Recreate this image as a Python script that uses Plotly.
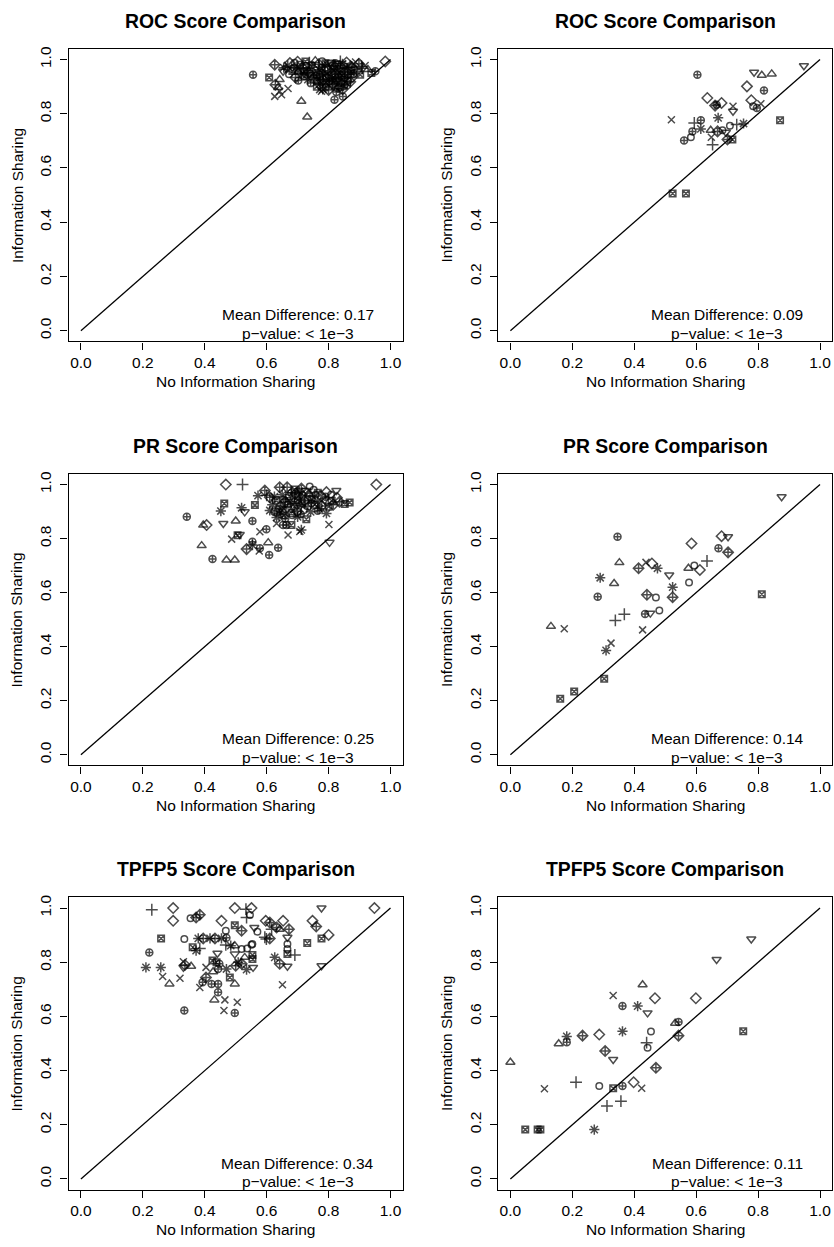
import plotly.graph_objects as go

W, H = 834, 1247
FONT = "Liberation Sans, Arial, Helvetica, sans-serif"

# ---------------- text ----------------
panel_titles = ["ROC Score Comparison", "ROC Score Comparison",
                "PR Score Comparison", "PR Score Comparison",
                "TPFP5 Score Comparison", "TPFP5 Score Comparison"]
mean_diffs = ["0.17", "0.09", "0.25", "0.14", "0.34", "0.11"]
p_values = ["< 1e\u22123"] * 6
x_label = "No Information Sharing"
y_label = "Information Sharing"
tick_vals = [0.0, 0.2, 0.4, 0.6, 0.8, 1.0]
tick_text = ["0.0", "0.2", "0.4", "0.6", "0.8", "1.0"]

# shape codes: o circle, t tri-up, p plus, x cross, d diamond, v tri-down,
# s boxed x, a asterisk, D diamond-plus, c circle-plus
# ---------------- data: (no sharing, sharing, shape) ----------------
roc_left = [
    (0.556, 0.944, 'c'), (0.608, 0.934, 's'), (0.983, 0.993, 'd'), (0.712, 0.846, 't'),
    (0.731, 0.788, 't'), (0.626, 0.864, 'x'), (0.648, 0.870, 'x'), (0.669, 0.893, 'x'),
    (0.642, 0.883, 'x'), (0.637, 0.897, 't'), (0.628, 0.907, 'D'), (0.825, 0.880, 'c'),
    (0.819, 0.852, 'c'), (0.846, 0.864, 'c'), (0.777, 0.883, 'x'), (0.781, 0.890, 'a'),
    (0.927, 0.963, 't'), (0.906, 0.975, 'p'), (0.938, 0.950, 's'), (0.951, 0.957, 'c'),
    (0.626, 0.981, 'D'), (0.675, 0.987, 'd'), (0.642, 0.926, 't'), (0.653, 0.957, 'v'),
    (0.655, 0.970, 'a'), (0.860, 0.905, 'c'), (0.870, 0.918, 'D'),
    (0.700, 0.992, 'd'), (0.738, 0.988, 'p'), (0.779, 0.994, 'o'), (0.806, 0.990, 'v'),
    (0.838, 0.993, 'p'), (0.858, 0.989, 'd'), (0.887, 0.991, 'x'), (0.757, 0.996, 't'),
    (0.822, 0.986, 'c'),
    (0.668, 0.978, 'a'), (0.708, 0.981, 's'), (0.728, 0.976, 'o'), (0.768, 0.983, 'D'),
    (0.797, 0.979, 'a'), (0.828, 0.982, 's'), (0.849, 0.976, 'o'), (0.871, 0.980, 't'),
    (0.898, 0.984, 'D'), (0.918, 0.978, 'x'),
    (0.664, 0.966, 'v'), (0.688, 0.970, 'c'), (0.718, 0.967, 'D'), (0.748, 0.972, 'a'),
    (0.777, 0.968, 's'), (0.796, 0.965, 'd'), (0.818, 0.971, 't'), (0.839, 0.967, 'c'),
    (0.861, 0.969, 'a'), (0.882, 0.964, 'o'), (0.909, 0.968, 'p'),
    (0.683, 0.958, 's'), (0.703, 0.955, 't'), (0.731, 0.960, 'c'), (0.759, 0.956, 'x'),
    (0.788, 0.959, 'D'), (0.808, 0.954, 'c'), (0.829, 0.957, 'a'), (0.851, 0.953, 'D'),
    (0.873, 0.958, 's'), (0.893, 0.955, 'v'),
    (0.672, 0.946, 'o'), (0.712, 0.944, 'a'), (0.741, 0.948, 's'), (0.762, 0.942, 'c'),
    (0.781, 0.947, 'a'), (0.801, 0.943, 'x'), (0.822, 0.946, 'D'), (0.842, 0.941, 's'),
    (0.862, 0.945, 'c'), (0.902, 0.944, 's'),
    (0.693, 0.934, 'D'), (0.722, 0.937, 's'), (0.752, 0.932, 'D'), (0.771, 0.936, 'c'),
    (0.792, 0.933, 'o'), (0.812, 0.931, 'a'), (0.832, 0.935, 'c'), (0.853, 0.930, 'v'),
    (0.874, 0.933, 'D'),
    (0.702, 0.923, 'c'), (0.733, 0.926, 'a'), (0.763, 0.921, 's'), (0.783, 0.925, 'D'),
    (0.803, 0.920, 'c'), (0.823, 0.924, 's'), (0.843, 0.919, 'a'), (0.862, 0.922, 'o'),
    (0.742, 0.913, 'c'), (0.772, 0.910, 'a'), (0.792, 0.914, 's'), (0.812, 0.909, 'D'),
    (0.833, 0.912, 'x'), (0.852, 0.908, 'c'),
    (0.762, 0.900, 's'), (0.791, 0.897, 'c'), (0.818, 0.902, 'a'), (0.838, 0.898, 's'),
    (0.845, 0.890, 'D'), (0.800, 0.888, 'D'), (0.831, 0.893, 'c'), (0.771, 0.889, 'x'),
    (0.690, 0.988, 'o'), (0.725, 0.993, 's'), (0.745, 0.980, 'c'), (0.790, 0.986, 's'),
    (0.815, 0.978, 'D'), (0.845, 0.984, 'a'), (0.875, 0.972, 'D'), (0.735, 0.952, 'D'),
    (0.770, 0.962, 'a'), (0.815, 0.962, 's'), (0.845, 0.958, 'c'), (0.880, 0.948, 'c'),
    (0.756, 0.940, 'a'), (0.790, 0.942, 'c'), (0.826, 0.928, 'D'), (0.850, 0.935, 's'),
    (0.778, 0.918, 'c'), (0.808, 0.925, 'a'), (0.720, 0.958, 's'), (0.700, 0.965, 'a'),
]

roc_right = [
    (0.604, 0.944, 'c'), (0.787, 0.953, 'v'), (0.812, 0.942, 't'), (0.844, 0.947, 't'),
    (0.948, 0.977, 'v'), (0.764, 0.901, 'd'), (0.819, 0.886, 'c'), (0.636, 0.858, 'd'),
    (0.682, 0.840, 'd'), (0.661, 0.830, 'D'), (0.666, 0.833, 'c'), (0.719, 0.828, 'x'),
    (0.719, 0.809, 'v'), (0.778, 0.850, 'd'), (0.784, 0.828, 'o'), (0.796, 0.821, 'c'),
    (0.809, 0.837, 'x'), (0.520, 0.778, 'x'), (0.594, 0.766, 'p'), (0.615, 0.776, 'c'),
    (0.671, 0.785, 'a'), (0.871, 0.776, 's'), (0.753, 0.764, 'a'), (0.731, 0.760, 'p'),
    (0.709, 0.756, 'o'), (0.615, 0.744, 'a'), (0.588, 0.735, 'c'), (0.583, 0.713, 'o'),
    (0.561, 0.701, 'c'), (0.647, 0.739, 't'), (0.669, 0.735, 'D'), (0.685, 0.739, 'o'),
    (0.696, 0.732, 'v'), (0.649, 0.713, 'x'), (0.653, 0.686, 'p'), (0.701, 0.705, 'D'),
    (0.717, 0.705, 's'), (0.524, 0.506, 's'), (0.567, 0.506, 's'),
]

pr_left = [
    (0.468, 1.000, 'd'), (0.522, 1.000, 'p'), (0.954, 1.000, 'd'), (0.342, 0.881, 'c'),
    (0.395, 0.850, 't'), (0.406, 0.850, 'd'), (0.452, 0.902, 'a'), (0.463, 0.930, 's'),
    (0.460, 0.856, 'v'), (0.500, 0.865, 't'), (0.562, 0.924, 's'), (0.519, 0.914, 'a'),
    (0.529, 0.899, 'v'), (0.554, 0.865, 'c'), (0.578, 0.825, 'x'), (0.599, 0.835, 'c'),
    (0.632, 0.856, 'x'), (0.653, 0.850, 'c'), (0.664, 0.850, 'c'), (0.680, 0.850, 's'),
    (0.669, 0.813, 'x'), (0.712, 0.832, 'a'), (0.707, 0.826, 'x'), (0.793, 0.893, 'a'),
    (0.801, 0.852, 'x'), (0.803, 0.786, 'v'), (0.852, 0.928, 's'), (0.868, 0.934, 's'),
    (0.487, 0.798, 'x'), (0.513, 0.815, 'v'), (0.506, 0.812, 's'), (0.390, 0.774, 't'),
    (0.554, 0.788, 'c'), (0.535, 0.761, 'D'), (0.605, 0.785, 't'), (0.578, 0.764, 'c'),
    (0.576, 0.754, 'x'), (0.637, 0.766, 'c'), (0.608, 0.739, 'c'), (0.425, 0.724, 'c'),
    (0.470, 0.721, 't'), (0.497, 0.721, 't'), (0.554, 0.776, 'a'),
    (0.642, 0.990, 'D'), (0.666, 0.990, 'D'), (0.594, 0.978, 'D'), (0.572, 0.959, 'a'),
    (0.610, 0.953, 'D'), (0.739, 0.993, 'o'), (0.825, 0.978, 'v'), (0.793, 0.972, 'd'),
    (0.827, 0.951, 'd'), (0.683, 0.886, 'o'), (0.666, 0.910, 'v'), (0.610, 0.904, 'a'),
    (0.640, 0.892, 'a'), (0.600, 0.960, 'p'), (0.625, 0.955, 'a'),
    (0.690, 0.982, 's'), (0.712, 0.985, 'D'), (0.727, 0.978, 'v'), (0.752, 0.981, 'o'),
    (0.705, 0.975, 'a'),
    (0.650, 0.962, 'a'), (0.672, 0.958, 's'), (0.693, 0.965, 'D'), (0.716, 0.960, 'c'),
    (0.735, 0.966, 't'), (0.758, 0.962, 'o'), (0.776, 0.958, 'd'), (0.808, 0.962, 'o'),
    (0.630, 0.942, 's'), (0.655, 0.945, 'c'), (0.676, 0.938, 'a'), (0.700, 0.944, 's'),
    (0.722, 0.940, 'D'), (0.745, 0.946, 's'), (0.765, 0.938, 'a'), (0.787, 0.943, 'v'),
    (0.810, 0.940, 's'), (0.835, 0.936, 'D'),
    (0.618, 0.925, 'a'), (0.645, 0.920, 'D'), (0.668, 0.926, 'c'), (0.690, 0.918, 's'),
    (0.712, 0.923, 'a'), (0.733, 0.919, 'c'), (0.755, 0.925, 's'), (0.778, 0.921, 'D'),
    (0.800, 0.918, 's'),
    (0.625, 0.898, 'c'), (0.652, 0.903, 's'), (0.698, 0.900, 'D'), (0.720, 0.905, 'o'),
    (0.742, 0.899, 'a'), (0.765, 0.903, 'c'),
    (0.632, 0.878, 'a'), (0.660, 0.874, 'c'), (0.700, 0.880, 'a'), (0.728, 0.872, 's'),
    (0.680, 0.970, 'c'), (0.700, 0.958, 's'), (0.740, 0.955, 'D'), (0.765, 0.970, 's'),
    (0.790, 0.955, 'c'), (0.660, 0.935, 'D'), (0.690, 0.930, 'a'), (0.715, 0.932, 's'),
    (0.745, 0.932, 'c'), (0.770, 0.910, 'a'), (0.640, 0.910, 'c'), (0.680, 0.895, 's'),
    (0.710, 0.890, 'c'), (0.655, 0.885, 's'), (0.815, 0.925, 'D'),
]

pr_right = [
    (0.876, 0.955, 'v'), (0.346, 0.807, 'c'), (0.585, 0.782, 'd'), (0.682, 0.809, 'd'),
    (0.703, 0.807, 'v'), (0.672, 0.764, 'c'), (0.703, 0.749, 'D'), (0.352, 0.711, 't'),
    (0.438, 0.712, 'x'), (0.457, 0.708, 'd'), (0.414, 0.690, 'D'), (0.475, 0.690, 'a'),
    (0.513, 0.665, 'v'), (0.290, 0.655, 'a'), (0.335, 0.634, 't'), (0.575, 0.690, 't'),
    (0.594, 0.700, 'o'), (0.612, 0.684, 'd'), (0.635, 0.717, 'p'), (0.577, 0.637, 'o'),
    (0.524, 0.620, 'a'), (0.282, 0.585, 'c'), (0.441, 0.592, 'D'), (0.470, 0.582, 'o'),
    (0.524, 0.583, 'D'), (0.368, 0.520, 'p'), (0.339, 0.497, 'p'), (0.435, 0.521, 'c'),
    (0.452, 0.524, 'v'), (0.481, 0.534, 'o'), (0.131, 0.475, 't'), (0.174, 0.466, 'x'),
    (0.427, 0.462, 'x'), (0.325, 0.413, 'x'), (0.309, 0.386, 'a'), (0.303, 0.281, 's'),
    (0.206, 0.234, 's'), (0.161, 0.207, 's'), (0.812, 0.594, 's'),
]

tpfp_left = [
    (0.229, 0.994, 'p'), (0.298, 1.000, 'd'), (0.298, 0.953, 'd'), (0.354, 0.962, 'o'),
    (0.372, 0.965, 'D'), (0.384, 0.975, 'D'), (0.497, 1.000, 'd'), (0.533, 0.996, 'p'),
    (0.551, 1.000, 'd'), (0.535, 0.965, 'p'), (0.546, 0.974, 'o'), (0.454, 0.953, 'd'),
    (0.497, 0.937, 's'), (0.519, 0.916, 'D'), (0.468, 0.916, 'o'), (0.597, 0.953, 'd'),
    (0.560, 0.928, 'v'), (0.570, 0.913, 'o'),
    (0.259, 0.888, 's'), (0.334, 0.886, 'o'), (0.379, 0.888, 'a'), (0.395, 0.888, 'D'),
    (0.417, 0.888, 'a'), (0.433, 0.888, 'D'), (0.454, 0.888, 'a'), (0.470, 0.890, 'c'),
    (0.468, 0.864, 'p'), (0.484, 0.861, 'a'), (0.497, 0.861, 't'), (0.519, 0.849, 'o'),
    (0.537, 0.851, 'o'), (0.554, 0.867, 'o'), (0.361, 0.855, 's'), (0.372, 0.843, 'a'),
    (0.384, 0.851, 'p'), (0.221, 0.836, 'c'), (0.441, 0.833, 'v'), (0.497, 0.830, 'v'),
    (0.529, 0.818, 't'), (0.554, 0.827, 's'), (0.554, 0.812, 's'), (0.508, 0.800, 'a'),
    (0.519, 0.794, 'D'), (0.535, 0.773, 'a'), (0.556, 0.781, 'v'), (0.425, 0.806, 's'),
    (0.438, 0.800, 's'), (0.447, 0.794, 'c'), (0.470, 0.775, 'a'), (0.500, 0.787, 'D'),
    (0.404, 0.781, 'x'), (0.427, 0.765, 't'), (0.443, 0.775, 'c'), (0.210, 0.781, 'a'),
    (0.258, 0.781, 'a'), (0.331, 0.802, 'x'), (0.331, 0.781, 'v'), (0.336, 0.790, 'D'),
    (0.356, 0.785, 't'), (0.264, 0.747, 'x'), (0.320, 0.741, 'x'), (0.286, 0.720, 't'),
    (0.404, 0.744, 'D'), (0.393, 0.726, 'c'), (0.384, 0.707, 'x'), (0.422, 0.720, 'c'),
    (0.443, 0.720, 'c'), (0.481, 0.744, 's'), (0.497, 0.720, 't'), (0.443, 0.689, 'c'),
    (0.431, 0.661, 't'), (0.465, 0.661, 'x'), (0.505, 0.652, 'x'), (0.334, 0.622, 'c'),
    (0.462, 0.622, 'x'), (0.497, 0.613, 'c'),
    (0.777, 1.000, 'v'), (0.948, 1.000, 'd'), (0.653, 0.953, 'd'), (0.610, 0.947, 'D'),
    (0.632, 0.928, 'D'), (0.616, 0.922, 'p'), (0.610, 0.888, 'D'), (0.594, 0.892, 'p'),
    (0.642, 0.922, 't'), (0.672, 0.922, 'D'), (0.667, 0.892, 'v'), (0.667, 0.867, 'o'),
    (0.667, 0.849, 'o'), (0.667, 0.830, 's'), (0.691, 0.827, 'p'), (0.748, 0.953, 'd'),
    (0.760, 0.932, 'D'), (0.731, 0.871, 's'), (0.777, 0.888, 's'), (0.800, 0.901, 'd'),
    (0.626, 0.818, 'a'), (0.642, 0.794, 'D'), (0.667, 0.785, 'v'), (0.777, 0.787, 'v'),
    (0.651, 0.717, 'x'), (0.551, 0.865, 'o'), (0.599, 0.886, 'p'),
]

tpfp_right = [
    (0.778, 0.886, 'v'), (0.666, 0.810, 'v'), (0.427, 0.717, 't'), (0.332, 0.677, 'x'),
    (0.467, 0.667, 'd'), (0.599, 0.667, 'd'), (0.362, 0.638, 'c'), (0.411, 0.638, 'a'),
    (0.443, 0.613, 'v'), (0.532, 0.575, 't'), (0.543, 0.579, 'c'), (0.362, 0.545, 'a'),
    (0.454, 0.544, 'o'), (0.182, 0.526, 'a'), (0.182, 0.505, 'c'), (0.156, 0.499, 't'),
    (0.233, 0.529, 'D'), (0.287, 0.533, 'd'), (0.543, 0.529, 'D'), (0.440, 0.503, 'p'),
    (0.443, 0.484, 'o'), (0.306, 0.472, 'D'), (0.332, 0.441, 'v'), (0.000, 0.431, 't'),
    (0.470, 0.410, 'D'), (0.212, 0.357, 'p'), (0.398, 0.357, 'd'), (0.110, 0.333, 'x'),
    (0.287, 0.343, 'o'), (0.332, 0.335, 's'), (0.362, 0.343, 'c'), (0.424, 0.335, 'x'),
    (0.357, 0.287, 'p'), (0.312, 0.269, 'p'), (0.271, 0.182, 'a'), (0.048, 0.182, 's'),
    (0.088, 0.182, 's'), (0.097, 0.182, 's'), (0.752, 0.545, 's'),
]

panels = [roc_left, roc_right, pr_left, pr_right, tpfp_left, tpfp_right]

SYMBOL = {'o': 'circle-open', 't': 'triangle-up-open', 'p': 'cross-thin-open',
          'x': 'x-thin-open', 'd': 'diamond-open', 'v': 'triangle-down-open',
          's': 'square-x-open', 'a': 'asterisk-open', 'D': 'diamond-cross-open',
          'c': 'circle-cross-open'}
SIZE = {'o': 6.5, 't': 8, 'p': 8.5, 'x': 7, 'd': 8, 'v': 8, 's': 6.5, 'a': 8.5,
        'D': 8, 'c': 7}

# ---------------- layout geometry (pixels) ----------------
col_px = [(68.6, 403.4), (498.6, 833.4)]
row_px = [(45.8, 339.3), (471.9, 764.3), (896.4, 1189.6)]

fig = go.Figure()
layout = dict(width=W, height=H, margin=dict(l=0, r=0, t=0, b=0),
              paper_bgcolor="white", plot_bgcolor="white", showlegend=False,
              font=dict(family=FONT, size=15.5, color="black"))
annotations = []

for i, pts in enumerate(panels):
    r, c = divmod(i, 2)
    n = "" if i == 0 else str(i + 1)
    xa, ya = "x" + n, "y" + n
    x0, x1 = col_px[c]
    y0, y1 = row_px[r]
    axis_common = dict(range=[-0.04, 1.04], tickvals=tick_vals, ticktext=tick_text,
                       ticks="outside", ticklen=7, tickwidth=1.2, tickcolor="black",
                       showline=True, linecolor="black", linewidth=1.2, mirror=True,
                       showgrid=False, zeroline=False,
                       tickfont=dict(family=FONT, size=15.5, color="black"))
    layout["xaxis" + n] = dict(axis_common, domain=[x0 / W, x1 / W], anchor=ya)
    layout["yaxis" + n] = dict(axis_common, domain=[1 - y1 / H, 1 - y0 / H], anchor=xa,
                               tickangle=-90, ticklabelstandoff=3)

    # diagonal reference line
    fig.add_trace(go.Scatter(x=[0, 1], y=[0, 1], mode="lines", xaxis=xa, yaxis=ya,
                             line=dict(color="black", width=1.3), hoverinfo="skip"))
    xs = [p[0] for p in pts]
    ys = [p[1] for p in pts]
    sh = [p[2] for p in pts]
    fig.add_trace(go.Scatter(x=xs, y=ys, mode="markers", xaxis=xa, yaxis=ya,
                             marker=dict(symbol=[SYMBOL[s] for s in sh],
                                         size=[SIZE[s] for s in sh], color="black",
                                         line=dict(color="black", width=1.5))))

    cx = (x0 + x1) / 2 / W
    annotations.append(dict(text="<b>" + panel_titles[i] + "</b>", xref="paper", yref="paper",
                            x=cx, y=1 - (y0 - 28) / H, xanchor="center", yanchor="middle",
                            showarrow=False, font=dict(family=FONT, size=19.4, color="black")))
    annotations.append(dict(text=x_label, xref="paper", yref="paper",
                            x=cx, y=1 - (y1 + 40) / H, xanchor="center", yanchor="middle",
                            showarrow=False, font=dict(family=FONT, size=15.5, color="black")))
    annotations.append(dict(text=y_label, xref="paper", yref="paper", textangle=-90,
                            x=(x0 - 51.6) / W, y=1 - (y0 + y1) / 2 / H,
                            xanchor="center", yanchor="middle",
                            showarrow=False, font=dict(family=FONT, size=15.5, color="black")))
    annotations.append(dict(text="Mean Difference: " + mean_diffs[i], xref=xa, yref=ya,
                            x=0.70, y=0.058, xanchor="center", yanchor="middle",
                            showarrow=False, font=dict(family=FONT, size=15.5, color="black")))
    annotations.append(dict(text="p\u2212value: " + p_values[i], xref=xa, yref=ya,
                            x=0.70, y=-0.010, xanchor="center", yanchor="middle",
                            showarrow=False, font=dict(family=FONT, size=15.5, color="black")))

layout["annotations"] = annotations
fig.update_layout(**layout)
fig.write_html("out.html")
